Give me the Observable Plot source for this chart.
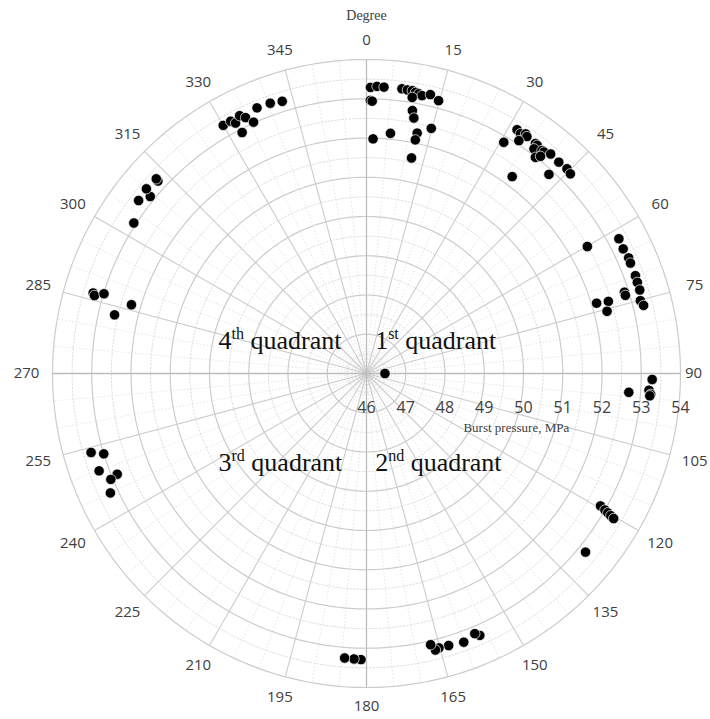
<!DOCTYPE html>
<html><head><meta charset="utf-8">
<script src="https://cdn.jsdelivr.net/npm/d3@7"></script>
<script src="https://cdn.jsdelivr.net/npm/@observablehq/plot@0.6"></script>
<style>body{margin:0;background:#fff;} svg{display:block}</style>
</head><body><div id="chart"></div>
<script>
// ---- data (angle in degrees clockwise from top, burst pressure in MPa) ----
const q1Angle = [0.8,2.1,3.5,0.8,1.2,1.6,5.7,7.1,8.2,9.2,9.9,10.6,11.3,12.9,14.8,9.4,9.9,10.5,11.9,11.8,14.8,11.8,
  31.7,32.7,33.6,34.1,33.2,30.7,36.3,36.8,36.7,38.2,38.7,40.0,38.0,38.7,42.3,44.4,45.6,36.5,42.5,
  60.1,61.9,64.1,66.2,67.3,70.0,71.4,73.0,72.5,73.2,75.1,76.2,73.0,73.4,75.5,90];
const q1Pressure = [53.29,53.32,53.31,52.96,52.94,51.98,52.15,53.31,53.30,53.30,53.27,53.25,53.22,53.29,53.19,53.13,52.80,52.62,52.26,52.08,52.46,51.61,
  53.30,53.26,53.33,53.29,53.09,52.85,53.27,53.26,53.14,53.23,53.23,53.30,52.99,53.09,53.28,53.30,53.27,52.24,52.88,
  52.49,53.29,53.27,53.30,53.29,53.29,53.28,53.28,52.89,52.89,53.22,53.27,52.13,52.43,52.33,46.47];
const q2Angle = [91.2,94.1,93.4,94.2,94.5,119.5,119.8,120.0,120.2,120.4,129.2,156.6,157.4,160.1,163.2,165.2,166.0,166.7];
const q2Pressure = [53.28,52.70,53.21,53.26,53.24,52.85,53.0,53.1,53.2,53.3,53.2,53.27,53.18,53.28,53.24,53.23,53.26,53.10];
const q3Angle = [181.1,182.5,184.4,254,253,250,248,247.5,245];
const q3Pressure = [53.29,53.28,53.27,53.3,53.0,53.25,52.85,53.05,53.2];
const q4Angle = [283.1,286.3,286.4,286.0,286.9,302.9,307.2,309.3,310.0,312.7,312.8,330.0,331.7,332.4,333.8,334.7,335.8,332.7,337.6,340.4,342.8];
const q4Pressure = [52.59,52.24,53.26,53.21,52.99,53.06,53.29,53.12,53.32,53.23,53.30,53.30,53.30,53.20,53.32,53.21,53.02,52.91,53.32,53.31,53.26];

const radialTicks = [46,47,48,49,50,51,52,53,54];
const angleTicks = [0,15,30,45,60,75,90,105,120,135,150,165,180,195,210,225,240,255,270,285,300,315,330,345];
const quadrantLabels = ["4th quadrant","1st quadrant","3rd quadrant","2nd quadrant"];
const radialTitle = "Burst pressure, MPa";
const angleTitle = "Degree";

// ---- polar helpers ----
const R0 = radialTicks[0], R1 = radialTicks[radialTicks.length-1], SPAN = R1 - R0;
const PX = 39.25; // px per MPa (for label offsets only)
const polar = (deg, p) => { const t = deg*Math.PI/180, d = p - R0; return {x: d*Math.sin(t), y: d*Math.cos(t)}; };

const points = [];
[[q1Angle,q1Pressure],[q2Angle,q2Pressure],[q3Angle,q3Pressure],[q4Angle,q4Pressure]].forEach(([a,p]) =>
  a.forEach((deg,i) => points.push({angle: deg, pressure: p[i], ...polar(deg, p[i])})));

const circle = (r) => d3.range(0, 361, 1).map(deg => ({r, ...polar(deg, r)}));
const majorCircles = radialTicks.slice(1).flatMap(circle);
const minorCircles = radialTicks.slice(0,-1).map(v => v + 0.5).flatMap(circle);
const majorSpokes = angleTicks.filter(a => a % 90 !== 0).map(a => polar(a, R1));
const axisSpokes = [0,90,180,270].map(a => polar(a, R1));
const minorSpokes = d3.range(0,360,5).filter(a => a % 15 !== 0).map(a => polar(a, R1));

const angleLabelPos = angleTicks.map(a => {
  const t = a*Math.PI/180;
  const rpx = (a === 90 ? 327 : 333 + 7*Math.abs(Math.sin(t)));
  return {label: String(a), x: rpx/PX*Math.sin(t), y: rpx/PX*Math.cos(t)};
});

const quadPos = [
  {text: quadrantLabels[0], x: -3.77, y: 0.84},
  {text: quadrantLabels[1], x: 0.22, y: 0.84},
  {text: quadrantLabels[2], x: -3.77, y: -2.27},
  {text: quadrantLabels[3], x: 0.22, y: -2.27}
];

const chart = Plot.plot({
  width: 710, height: 719,
  marginLeft: 52, marginRight: 30, marginTop: 59, marginBottom: 32,
  x: {domain: [-SPAN, SPAN], axis: null},
  y: {domain: [-SPAN, SPAN], axis: null},
  style: {background: "white", fontFamily: "'Open Sans', sans-serif", overflow: "visible"},
  marks: [
    Plot.line(minorCircles, {x: "x", y: "y", z: "r", stroke: "#d4d4d4", strokeWidth: 0.8, strokeDasharray: "1.5,2"}),
    Plot.link(minorSpokes, {x1: () => 0, y1: () => 0, x2: "x", y2: "y", stroke: "#dadada", strokeWidth: 0.7, strokeDasharray: "1.5,2"}),
    Plot.line(majorCircles, {x: "x", y: "y", z: "r", stroke: "#cccccc", strokeWidth: 1.2}),
    Plot.link(majorSpokes, {x1: () => 0, y1: () => 0, x2: "x", y2: "y", stroke: "#cccccc", strokeWidth: 1.1}),
    Plot.link(axisSpokes, {x1: () => 0, y1: () => 0, x2: "x", y2: "y", stroke: "#bdbdbd", strokeWidth: 1.3}),
    Plot.dot(points, {x: "x", y: "y", r: 5.2, fill: "black", stroke: "white", strokeWidth: 0.7}),
    Plot.text(radialTicks, {x: d => d - R0, y: () => 0, dy: 34, text: d => String(d), fontSize: 16, fill: "#404040"}),
    Plot.text(angleLabelPos, {x: "x", y: "y", text: "label", fontSize: 15, fill: "#404040"}),
    Plot.text([radialTitle], {x: () => 2.47, y: () => -1.38, text: d => d, textAnchor: "start", fontFamily: "'Liberation Serif', serif", fontSize: 13, fill: "#404040"}),
    Plot.text([angleTitle], {x: () => 0, y: () => 9.12, text: d => d, fontFamily: "'Liberation Serif', serif", fontSize: 14, fill: "#404040"}),
    Plot.text(quadPos, {x: "x", y: "y", text: "text", textAnchor: "start", fontFamily: "'Liberation Serif', serif", fontSize: 26, fill: "#111"})
  ]
});

// superscript ordinal suffixes
d3.select(chart).selectAll("text").filter(function() {
  return /^\d(st|nd|rd|th) quadrant$/.test(this.textContent);
}).each(function() {
  const m = this.textContent.match(/^(\d)(\w\w) (.*)$/);
  const t = d3.select(this); t.text(null);
  t.append("tspan").text(m[1]);
  t.append("tspan").attr("font-size", 16).attr("dy", -10).text(m[2]);
  t.append("tspan").attr("dy", 10).text(" " + m[3]);
});

document.getElementById("chart").appendChild(chart);
</script>
</body></html>
